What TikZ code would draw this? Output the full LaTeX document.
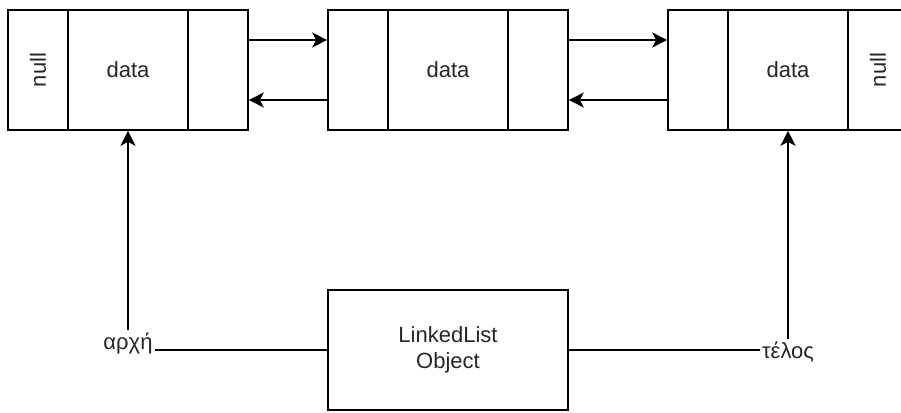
\documentclass[tikz,border=0pt]{standalone}
\usepackage{fontspec}
\usepackage{graphicx}
\setmainfont{Liberation Sans}
\usetikzlibrary{arrows.meta}
\begin{document}
\begin{tikzpicture}[x=1pt,y=-1pt,
  txt/.style={font=\fontsize{22}{26}\selectfont, text=black!85},
  cell/.style={draw, line width=1.6pt, minimum height=120pt, inner sep=0pt, txt},
  side/.style={cell, minimum width=60pt},
  mid/.style={cell, minimum width=120pt},
  link/.style={line width=1.6pt},
  arr/.style={link, -{Stealth[length=15pt,width=15pt,inset=4pt]}},
  lbl/.style={inner sep=2pt, txt}]
\clip (0,0) rectangle (901,412);

% first list element
\node[side] (aL) at (38,70)  {\rotatebox{90}{null}};
\node[mid]  (aD) at (128,70) {data};
\node[side] (aR) at (218,70) {};

% second list element
\node[side] (bL) at (358,70) {};
\node[mid]  (bD) at (448,70) {data};
\node[side] (bR) at (538,70) {};

% third list element
\node[side] (cL) at (698,70) {};
\node[mid]  (cD) at (788,70) {data};
\node[side] (cR) at (878,70) {\rotatebox{90}{null}};

% next / previous links
\draw[arr] ([yshift=30pt]aR.east) -- ([yshift=30pt]bL.west);
\draw[arr] ([yshift=-30pt]bL.west) -- ([yshift=-30pt]aR.east);
\draw[arr] ([yshift=30pt]bR.east) -- ([yshift=30pt]cL.west);
\draw[arr] ([yshift=-30pt]cL.west) -- ([yshift=-30pt]bR.east);

% list object with head and tail references
\node[cell, minimum width=240pt, align=center] (obj) at (448,350) {LinkedList\\Object};
\node[lbl, anchor=base] (head) at (128,349) {αρχή};
\node[lbl, anchor=base] (tail) at (788,358) {τέλος};

\draw[link] (obj.west) -- (obj.west -| head.east);
\draw[arr] (head.north) -- (aD.south);
\draw[link] (obj.east) -- (obj.east -| tail.west);
\draw[arr] (tail.north) -- (cD.south);
\end{tikzpicture}
\end{document}
